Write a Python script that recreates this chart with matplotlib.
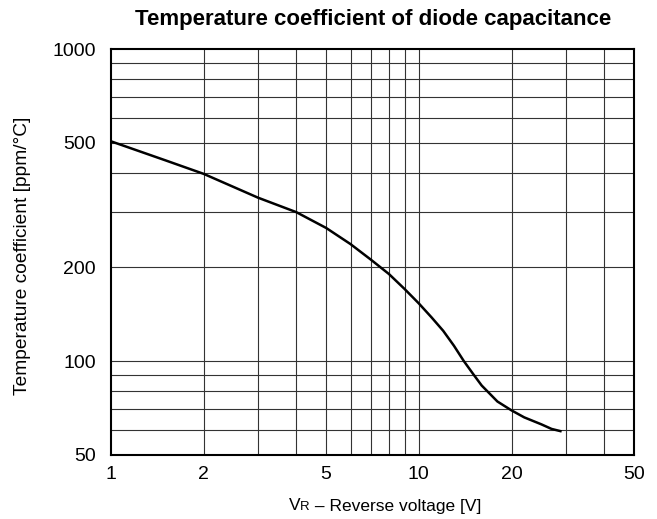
import matplotlib
matplotlib.use("Agg")
import matplotlib.pyplot as plt
from matplotlib.ticker import FixedLocator, NullFormatter, FixedFormatter
from matplotlib.offsetbox import TextArea, HPacker, AnchoredOffsetbox

plt.rcParams['font.family'] = ['Liberation Sans', 'DejaVu Sans']

voltage = [1, 1.5, 2, 3, 4, 5, 6, 7, 8, 9, 10, 11, 12, 13, 14, 15, 16, 18, 20, 22, 25, 27, 29.1]
tempco = [506, 440, 398, 334, 300, 267, 237, 211, 190, 170, 153, 138, 125, 112, 100, 91, 83.5, 74.2, 69.5, 66.0, 62.7, 60.6, 59.5]

x_ticks = [1, 2, 5, 10, 20, 50]
y_ticks = [50, 100, 200, 500, 1000]
x_grid = [2, 3, 4, 5, 6, 7, 8, 9, 10, 20, 30, 40]
y_grid = [60, 70, 80, 90, 100, 200, 300, 400, 500, 600, 700, 800, 900]

fig = plt.figure(figsize=(6.57, 5.19), dpi=100)
ax = fig.add_axes([111/657, 1-455/519, (634-111)/657, (455-49)/519])
ax.set_xscale('log')
ax.set_yscale('log')
ax.set_xlim(1, 50)
ax.set_ylim(50, 1000)

for g in x_grid:
    ax.axvline(g, color='#333333', lw=0.8, zorder=1)
for g in y_grid:
    ax.axhline(g, color='#333333', lw=0.8, zorder=1)

ax.plot(voltage, tempco, color='black', lw=1.8, zorder=3,
        solid_capstyle='butt', solid_joinstyle='round')

ax.xaxis.set_major_locator(FixedLocator(x_ticks))
ax.xaxis.set_major_formatter(FixedFormatter([str(t) for t in x_ticks]))
ax.xaxis.set_minor_locator(FixedLocator([]))
ax.xaxis.set_minor_formatter(NullFormatter())
ax.yaxis.set_major_locator(FixedLocator(y_ticks))
ax.yaxis.set_major_formatter(FixedFormatter([str(t) for t in y_ticks]))
ax.yaxis.set_minor_locator(FixedLocator([]))
ax.yaxis.set_minor_formatter(NullFormatter())
ax.tick_params(axis='x', length=0, labelsize=14, pad=8)
ax.tick_params(axis='y', length=0, labelsize=14, pad=11)

for s in ax.spines.values():
    s.set_linewidth(1.5)
    s.set_color('black')

fig.text(373/657, 1-19/519, 'Temperature coefficient of diode capacitance',
         fontsize=16, fontweight='bold', ha='center', va='center')

fig.text(23/657, 1-256/519, 'Temperature coefficient [ppm/°C]', fontsize=13.8,
         rotation=90, ha='center', va='center')

xl = HPacker(children=[TextArea('V', textprops=dict(fontsize=12.5)),
                       TextArea('R', textprops=dict(fontsize=9.5)),
                       TextArea(' – Reverse voltage [V]', textprops=dict(fontsize=12.5))],
             align='baseline', pad=0, sep=0)
anch = AnchoredOffsetbox(loc='center', child=xl, pad=0, frameon=False,
                         bbox_to_anchor=(385/657, 1-506/519),
                         bbox_transform=fig.transFigure, borderpad=0)
fig.add_artist(anch)

fig.savefig('out.png', dpi=100)
